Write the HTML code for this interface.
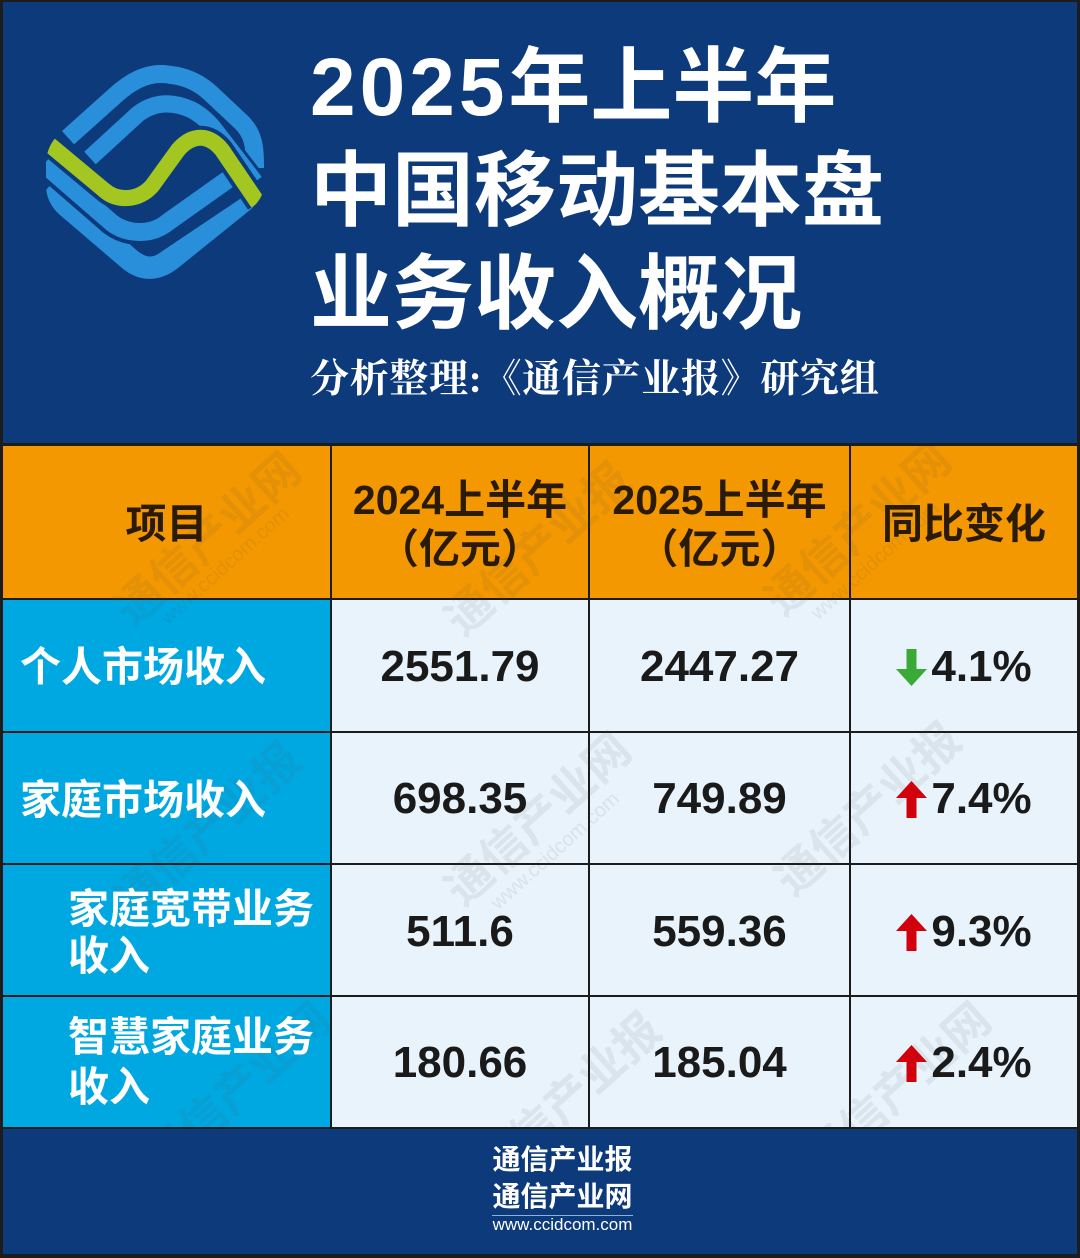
<!DOCTYPE html>
<html><head><meta charset="utf-8">
<style>
*{margin:0;padding:0;box-sizing:border-box}
body{width:1080px;height:1258px;position:relative;overflow:hidden;background:#1c1c1c;font-family:"Liberation Sans","Noto Sans CJK SC",sans-serif}
.a{position:absolute}
.nav{background:#0c3a7a}
.or{background:#f39800}
.cy{background:#00a8e2}
.lt{background:#e8f3fc}
.t{position:absolute;font-weight:700;line-height:1;white-space:nowrap}
.title{font-size:82px;color:#fff;left:310px}
.hd{font-size:41px;color:#2a1a08;text-align:center}
.num{font-size:44px;color:#1a1a1a;text-align:center}
.lab{font-size:41px;color:#fff}
.chg{position:absolute;left:851px;width:226px;height:44px;display:flex;align-items:center;justify-content:center}
.chg span{font-size:44px;font-weight:700;line-height:1;color:#1a1a1a}
.chg svg{margin-right:4px}
.wm{position:absolute;color:rgba(80,80,80,0.09);font-weight:700;font-size:46px;transform:rotate(-42deg);white-space:nowrap;line-height:1}
.wm2{position:absolute;color:rgba(80,80,80,0.10);font-size:20px;transform:rotate(-42deg);white-space:nowrap;line-height:1}
</style></head>
<body>
<!-- header -->
<div class="a nav" style="left:3px;top:2px;width:1074px;height:441px"></div>

<svg class="a" style="left:0;top:0" width="300" height="300" viewBox="0 0 300 300">
<defs>
<clipPath id="cl"><path d="M46 165 C46 150 52 140 62 131 L110 88 C130 70 150 62 172 66 C190 68 205 76 216 86 L248 116 C262 130 264 145 264 165 L264 185 C264 195 258 203 250 210 L178 268 C160 282 140 283 122 268 L60 215 C50 206 46 196 46 185 Z"/></clipPath>
</defs>
<g clip-path="url(#cl)" fill="none" stroke-linejoin="round">
<!-- A outer top band -->
<path d="M62 131 L110 88 C130 70 150 62 172 66 C190 68 205 76 216 86 L248 116 C262 130 264 145 264 168" stroke="#2a8fdb" stroke-width="36"/>
<!-- B -->
<path d="M90 158 L138 114 Q162 96 192 110 Q205 117 215 130 L255 182" stroke="#0c3a7a" stroke-width="23"/>
<path d="M90 158 L138 114 Q162 96 192 110 Q205 117 215 130 L255 182" stroke="#2a8fdb" stroke-width="17"/>
<!-- D outer bottom band -->
<path d="M46 190 L128 262 Q150 280 172 262 L254 207" stroke="#2a8fdb" stroke-width="29"/>
<!-- C -->
<path d="M44 164 L112 223 Q124 232 140 232 Q156 232 168 222 L230 178" stroke="#0c3a7a" stroke-width="26"/>
<path d="M44 164 L112 223 Q124 232 140 232 Q156 232 168 222 L230 178" stroke="#2a8fdb" stroke-width="18"/>
<!-- green -->
<path d="M44 140 L104 190 Q114 199 128 198 Q142 197 152 186 L178 150 Q190 136 204 138 Q214 140 222 150 L258 203" stroke="#0c3a7a" stroke-width="24"/>
<path d="M44 140 L104 190 Q114 199 128 198 Q142 197 152 186 L178 150 Q190 136 204 138 Q214 140 222 150 L258 203" stroke="#a3c720" stroke-width="16"/>
</g>
</svg>

<div class="t title" style="top:47px"><span style="letter-spacing:4px">2025</span>年上半年</div>
<div class="t title" style="top:151px">中国移动基本盘</div>
<div class="t title" style="top:254px">业务收入概况</div>
<div class="t" style="left:310px;top:360px;font-size:39px;letter-spacing:0.7px;color:#fff;font-family:'Liberation Serif','Noto Serif CJK SC',serif">分析整理:《通信产业报》研究组</div>

<!-- table cells -->
<div class="a or" style="left:3px;top:446px;width:327px;height:152px"></div>
<div class="a or" style="left:332px;top:446px;width:256px;height:152px"></div>
<div class="a or" style="left:590px;top:446px;width:259px;height:152px"></div>
<div class="a or" style="left:851px;top:446px;width:226px;height:152px"></div>

<div class="a cy" style="left:3px;top:600px;width:327px;height:131px"></div>
<div class="a lt" style="left:332px;top:600px;width:256px;height:131px"></div>
<div class="a lt" style="left:590px;top:600px;width:259px;height:131px"></div>
<div class="a lt" style="left:851px;top:600px;width:226px;height:131px"></div>

<div class="a cy" style="left:3px;top:733px;width:327px;height:130px"></div>
<div class="a lt" style="left:332px;top:733px;width:256px;height:130px"></div>
<div class="a lt" style="left:590px;top:733px;width:259px;height:130px"></div>
<div class="a lt" style="left:851px;top:733px;width:226px;height:130px"></div>

<div class="a cy" style="left:3px;top:865px;width:327px;height:130px"></div>
<div class="a lt" style="left:332px;top:865px;width:256px;height:130px"></div>
<div class="a lt" style="left:590px;top:865px;width:259px;height:130px"></div>
<div class="a lt" style="left:851px;top:865px;width:226px;height:130px"></div>

<div class="a cy" style="left:3px;top:997px;width:327px;height:130px"></div>
<div class="a lt" style="left:332px;top:997px;width:256px;height:130px"></div>
<div class="a lt" style="left:590px;top:997px;width:259px;height:130px"></div>
<div class="a lt" style="left:851px;top:997px;width:226px;height:130px"></div>

<!-- watermarks -->
<div class="a" style="left:3px;top:446px;width:1074px;height:681px;overflow:hidden">
  <div class="wm" style="left:90px;top:70px">通信产业网</div>
  <div class="wm2" style="left:140px;top:110px">www.ccidcom.com</div>
  <div class="wm" style="left:420px;top:80px">通信产业报</div>
  <div class="wm" style="left:740px;top:60px">通信产业网</div>
  <div class="wm2" style="left:790px;top:105px">www.ccidcom.com</div>
  <div class="wm" style="left:90px;top:360px">通信产业报</div>
  <div class="wm" style="left:420px;top:350px">通信产业网</div>
  <div class="wm2" style="left:470px;top:395px">www.ccidcom.com</div>
  <div class="wm" style="left:750px;top:340px">通信产业报</div>
  <div class="wm" style="left:120px;top:620px">通信产业网</div>
  <div class="wm" style="left:450px;top:630px">通信产业报</div>
  <div class="wm" style="left:780px;top:620px">通信产业网</div>
</div>

<!-- header text -->
<div class="t hd" style="left:3px;width:327px;top:504px">项目</div>
<div class="t hd" style="left:332px;width:256px;top:480px">2024上半年</div>
<div class="t hd" style="left:332px;width:256px;top:529px">（亿元）</div>
<div class="t hd" style="left:590px;width:259px;top:480px">2025上半年</div>
<div class="t hd" style="left:590px;width:259px;top:529px">（亿元）</div>
<div class="t hd" style="left:851px;width:226px;top:504px">同比变化</div>

<!-- labels -->
<div class="t lab" style="left:20px;top:647px">个人市场收入</div>
<div class="t lab" style="left:20px;top:780px">家庭市场收入</div>
<div class="t lab" style="left:68px;top:889px">家庭宽带业务</div>
<div class="t lab" style="left:68px;top:936px">收入</div>
<div class="t lab" style="left:68px;top:1017px">智慧家庭业务</div>
<div class="t lab" style="left:68px;top:1067px">收入</div>

<!-- numbers -->
<div class="t num" style="left:332px;width:256px;top:645px">2551.79</div>
<div class="t num" style="left:590px;width:259px;top:645px">2447.27</div>
<div class="t num" style="left:332px;width:256px;top:777px">698.35</div>
<div class="t num" style="left:590px;width:259px;top:777px">749.89</div>
<div class="t num" style="left:332px;width:256px;top:910px">511.6</div>
<div class="t num" style="left:590px;width:259px;top:910px">559.36</div>
<div class="t num" style="left:332px;width:256px;top:1041px">180.66</div>
<div class="t num" style="left:590px;width:259px;top:1041px">185.04</div>

<!-- changes -->
<div class="chg" style="top:645px">
  <svg width="31" height="37" viewBox="0 0 31 37"><polygon points="10.5,0 20.5,0 20.5,20 31,20 15.5,37 0,20 10.5,20" fill="#3aa935"/></svg><span>4.1%</span>
</div>
<div class="chg" style="top:777px">
  <svg width="31" height="37" viewBox="0 0 31 37"><polygon points="15.5,0 31,17 20.5,17 20.5,37 10.5,37 10.5,17 0,17" fill="#d2000c"/></svg><span>7.4%</span>
</div>
<div class="chg" style="top:910px">
  <svg width="31" height="37" viewBox="0 0 31 37"><polygon points="15.5,0 31,17 20.5,17 20.5,37 10.5,37 10.5,17 0,17" fill="#d2000c"/></svg><span>9.3%</span>
</div>
<div class="chg" style="top:1041px">
  <svg width="31" height="37" viewBox="0 0 31 37"><polygon points="15.5,0 31,17 20.5,17 20.5,37 10.5,37 10.5,17 0,17" fill="#d2000c"/></svg><span>2.4%</span>
</div>

<!-- footer -->
<div class="a nav" style="left:3px;top:1129px;width:1074px;height:125px"></div>
<div class="t" style="left:492px;width:141px;top:1146px;font-size:28px;color:#fff;text-align:center">通信产业报</div>
<div class="t" style="left:492px;width:141px;top:1183px;font-size:28px;color:#fff;text-align:center">通信产业网</div>
<div class="a" style="left:492px;top:1215px;width:141px;height:1px;background:#8fb0d8"></div>
<div class="t" style="left:482px;width:161px;top:1216px;font-size:17px;font-weight:400;color:#fff;text-align:center">www.ccidcom.com</div>
</body></html>
